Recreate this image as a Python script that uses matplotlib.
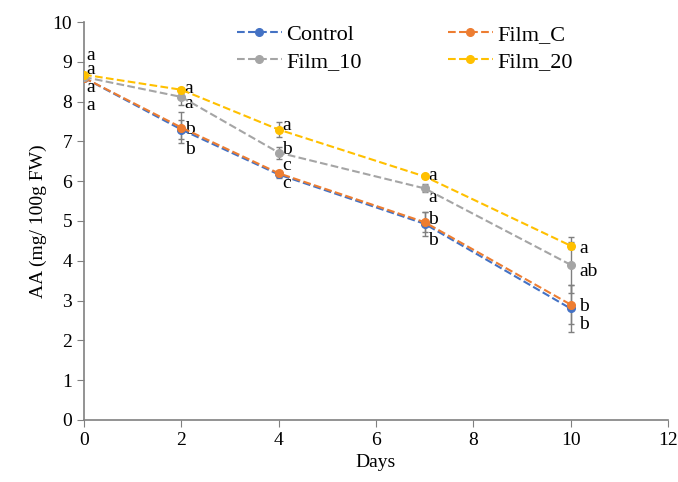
import matplotlib
matplotlib.use('Agg')

import matplotlib.pyplot as plt
from matplotlib.lines import Line2D

days = [0, 2, 4, 7, 10]

control = [8.60, 7.30, 6.17, 4.93, 2.80]
film_c = [8.60, 7.35, 6.20, 4.97, 2.90]
film_10 = [8.62, 8.12, 6.72, 5.82, 3.90]
film_20 = [8.68, 8.30, 7.30, 6.12, 4.38]

control_err = [0.05, 0.25, 0.08, 0.30, 0.60]
film_c_err = [0.05, 0.38, 0.06, 0.25, 0.50]
film_10_err = [0.05, 0.20, 0.15, 0.10, 0.70]
film_20_err = [0.04, 0.05, 0.18, 0.05, 0.08]

labels = ["Control", "Film_C", "Film_10", "Film_20"]
colors = ["#4472C4", "#ED7D31", "#A5A5A5", "#FFC000"]

# significance letters per day, with their y position
letters = [
    ["a", "a", "a", "a"],
    ["a", "a", "b", "b"],
    ["a", "b", "c", "c"],
    ["a", "a", "b", "b"],
    ["a", "ab", "b", "b"],
]
letter_y = [
    [9.16, 8.8, 8.35, 7.9],
    [8.32, 7.96, 7.3, 6.8],
    [7.4, 6.8, 6.4, 5.95],
    [6.15, 5.6, 5.05, 4.5],
    [4.3, 3.72, 2.85, 2.4],
]

plt.rcParams['font.family'] = ['Liberation Serif', 'DejaVu Serif']

fig = plt.figure(figsize=(6.78, 4.82), dpi=100)
ax = fig.add_axes([0.124, 0.129, 0.861, 0.825])

series = [control, film_c, film_10, film_20]
errs = [control_err, film_c_err, film_10_err, film_20_err]
handles = []
for vals, err, lab, col in zip(series, errs, labels, colors):
    ax.errorbar(days, vals, yerr=err, color=col, ls='--', lw=1.5, marker='o',
                ms=5.5, ecolor='#7f7f7f', elinewidth=1, capsize=2.5,
                capthick=1, zorder=3)
    handles.append(Line2D([], [], color=col, ls='--', lw=1.5, marker='o',
                          ms=5.5, label=lab))

for d, lets, ys in zip(days, letters, letter_y):
    dx = 0.04 if d == 0 else (0.18 if d == 10 else 0.07)
    for t, y in zip(lets, ys):
        ax.text(d + dx, y, t, fontsize=14, va='center', ha='left')

ax.set_xlim(0, 12)
ax.set_ylim(0, 10)
ax.set_xticks(range(0, 13, 2))
ax.set_yticks(range(0, 11))
ax.set_xlabel('Days', fontsize=14)
ax.set_ylabel('AA (mg/ 100g FW)', fontsize=14)
ax.tick_params(labelsize=14, color='#808080', length=5)
for s in ['top', 'right']:
    ax.spines[s].set_visible(False)
for s in ['left', 'bottom']:
    ax.spines[s].set_color('#808080')
    ax.spines[s].set_linewidth(1.2)

# row-wise order: Control, Film_C / Film_10, Film_20
order = [0, 2, 1, 3]
ax.legend([handles[i] for i in order], [labels[i] for i in order],
          ncol=2, loc='upper left', bbox_to_anchor=(0.228, 1.045), frameon=False,
          prop={'family': 'Liberation Serif', 'size': 16},
          handlelength=2.0, columnspacing=3.9, labelspacing=0.3,
          handletextpad=0.2)

fig.savefig('out.png', dpi=100)
